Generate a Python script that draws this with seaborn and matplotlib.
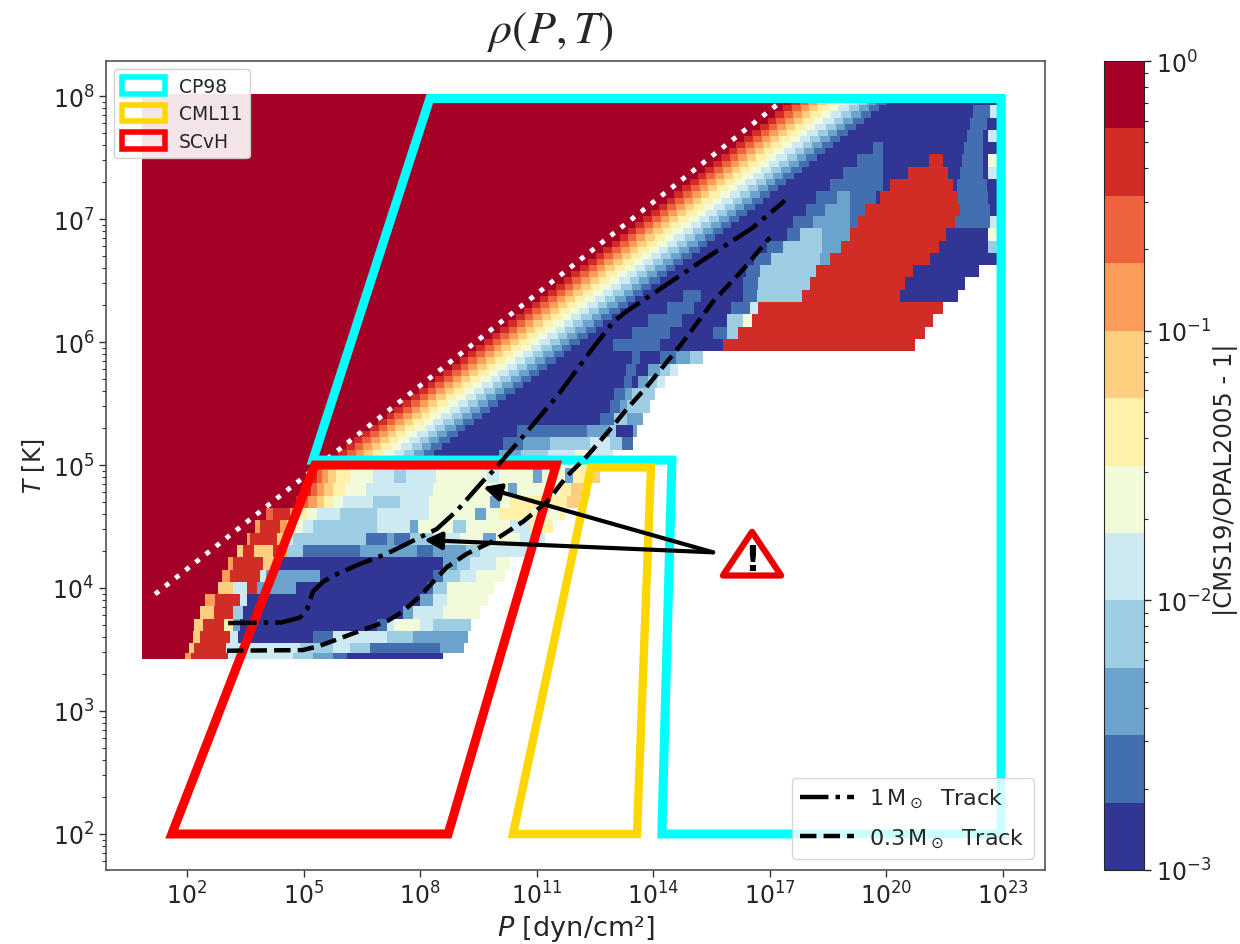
import numpy as np
import matplotlib
matplotlib.use("Agg")
import matplotlib.pyplot as plt
import seaborn as sns
from matplotlib.colors import ListedColormap, LogNorm
from matplotlib.lines import Line2D
from matplotlib.patches import Patch, Polygon
from matplotlib.ticker import LogLocator, NullFormatter

# ---------------- data (log10 units) ----------------
grid_left = 0.84
grid_right = 22.95
grid_bottom = 3.42
grid_top = 8.02

band_log_t = [5.00, 5.05, 5.10, 5.15, 5.20, 5.25, 5.30, 5.35, 5.40, 5.45, 5.50, 5.55, 5.60, 5.65, 5.70, 5.75,
              5.80, 5.85, 5.90, 5.95, 6.00, 6.05, 6.10, 6.15, 6.20, 6.25, 6.30, 6.35, 6.40, 6.45, 6.50, 6.55,
              6.60, 6.65, 6.70, 6.75, 6.80, 6.85, 6.90, 6.95, 7.00, 7.05, 7.10, 7.15, 7.20, 7.25, 7.30, 7.35,
              7.40, 7.45, 7.50, 7.55, 7.60, 7.65, 7.70, 7.75, 7.80, 7.85, 7.90, 7.95, 8.00]
band_start = [5.50, 5.70, 5.90, 6.10, 6.30, 6.50, 6.71, 6.92, 7.13, 7.34, 7.55, 7.76, 7.97, 8.18, 8.39, 8.60,
              8.81, 9.02, 9.23, 9.44, 9.65, 9.85, 10.06, 10.26, 10.47, 10.67, 10.88, 11.08, 11.29, 11.49, 11.70, 11.90,
              12.11, 12.31, 12.52, 12.72, 12.93, 13.13, 13.34, 13.54, 13.75, 13.95, 14.15, 14.35, 14.55, 14.75, 14.95, 15.15,
              15.35, 15.55, 15.75, 15.95, 16.15, 16.35, 16.55, 16.75, 16.95, 17.15, 17.35, 17.55, 17.75]
# width in dex of the levels 10, 9, ... 1 across the diagonal band
band_widths = [0.22, 0.22, 0.22, 0.24, 0.26, 0.26, 0.26, 0.26, 0.26, 0.26]

# patches right of the band: (logP from, logP to, colour level); the rest is level 0
upper_patches = {
    8.0: [],
    7.9: [(22.23, 22.66, 1), (22.66, 22.85, 4)],
    7.8: [(22.15, 22.58, 1)],
    7.7: [(22.06, 22.49, 1), (22.62, 22.85, 4)],
    7.6: [(19.66, 19.92, 1), (21.98, 22.49, 1)],
    7.5: [(19.23, 19.92, 1), (21.08, 21.46, 10), (21.93, 22.49, 1), (22.62, 22.85, 5)],
    7.4: [(18.89, 19.92, 1), (20.56, 21.59, 10), (21.89, 22.49, 1), (22.62, 22.85, 4)],
    7.3: [(18.55, 19.92, 1), (20.09, 21.72, 10), (21.81, 22.58, 1)],
    7.2: [(18.20, 18.72, 1), (18.72, 19.06, 2), (19.06, 19.75, 1), (19.83, 21.85, 10), (21.85, 22.62, 1)],
    7.1: [(17.94, 18.42, 1), (18.42, 19.06, 2), (19.06, 19.45, 1), (19.45, 21.89, 10), (21.89, 22.66, 1)],
    7.0: [(17.60, 18.12, 1), (18.12, 19.06, 2), (19.06, 19.27, 1), (19.27, 21.76, 10), (21.76, 22.66, 1), (22.66, 22.85, 4)],
    6.9: [(17.43, 17.77, 1), (17.77, 18.33, 3), (18.33, 19.06, 2), (19.06, 21.55, 10), (22.62, 22.85, 5)],
    6.8: [(16.92, 17.35, 1), (17.35, 18.33, 3), (18.33, 18.85, 2), (18.85, 21.37, 10), (22.62, 22.85, 3)],
    6.7: [(16.60, 17.04, 1), (17.04, 18.29, 3), (18.29, 18.55, 2), (18.55, 21.12, 10)],
    6.6: [(16.40, 16.74, 1), (16.74, 18.20, 3), (18.20, 20.69, 10)],
    6.5: [(16.32, 16.70, 1), (16.70, 18.03, 3), (18.03, 20.47, 10)],
    6.4: [(14.77, 15.24, 1), (16.32, 16.66, 1), (16.66, 17.82, 3), (17.82, 20.35, 10)],
    6.3: [(14.34, 15.03, 1), (16.00, 16.50, 1), (16.50, 16.70, 4), (16.70, 21.46, 10)],
    6.2: [(13.87, 14.73, 1), (15.89, 16.32, 3), (16.32, 16.53, 5), (16.53, 21.20, 10)],
    6.1: [(13.44, 14.43, 1), (15.54, 15.89, 1), (15.89, 16.19, 3), (16.19, 20.99, 10)],
    6.0: [(12.97, 14.17, 1), (15.80, 20.73, 10)],
    5.9: [(13.44, 13.66, 1), (14.17, 14.60, 1), (14.60, 14.94, 2), (14.94, 15.29, 3)],
    5.8: [(13.30, 13.57, 1), (13.87, 14.17, 2), (14.17, 14.43, 3), (14.43, 14.64, 4)],
    5.7: [(13.23, 13.44, 1), (13.61, 13.87, 2), (13.87, 14.08, 3), (14.08, 14.30, 4)],
    5.6: [(13.00, 13.27, 1), (13.27, 13.44, 2), (13.44, 14.04, 3)],
    5.5: [(12.88, 13.14, 1), (13.14, 13.31, 2), (13.31, 13.91, 3)],
    5.4: [(12.63, 13.00, 1), (13.00, 13.31, 3), (13.31, 13.74, 2)],
    5.3: [(10.48, 12.28, 1), (12.28, 12.88, 2), (12.88, 13.05, 3), (13.49, 13.60, 2)],
    5.2: [(10.13, 10.65, 1), (10.65, 11.34, 2), (11.34, 12.37, 3), (12.37, 12.90, 4), (12.90, 13.20, 3), (13.20, 13.48, 1)],
    5.1: [(10.05, 10.60, 2), (10.60, 11.30, 3), (11.30, 12.00, 4), (12.00, 12.40, 5), (12.40, 12.96, 4)],
    5.0: [(10.00, 10.60, 3), (10.60, 11.00, 4), (11.00, 12.00, 5), (12.00, 12.50, 6), (12.50, 12.80, 7)],
}
upper_row_end = {6.6: 22.40, 6.5: 22.02, 6.4: 21.85, 6.3: 21.46, 6.2: 21.20, 6.1: 20.99, 6.0: 20.73,
                 5.9: 15.29, 5.8: 14.64, 5.7: 14.30, 5.6: 14.04, 5.5: 13.91, 5.4: 13.74, 5.3: 13.60,
                 5.2: 13.48, 5.1: 12.96, 5.0: 12.80}

# cooler rows: (right edge in logP, colour level) from the left edge of the table
lower_rows = {
    4.9: [(5.16, 11), (5.34, 10), (5.46, 9), (5.64, 8), (5.85, 7), (6.19, 6), (6.79, 5), (7.31, 4), (7.65, 3), (8.42, 4),
          (9.71, 5), (10.05, 4), (10.91, 5), (11.15, 2), (11.75, 5), (11.95, 2), (12.37, 6), (12.63, 7)],
    4.8: [(4.99, 11), (5.20, 10), (5.34, 9), (5.51, 8), (5.77, 7), (6.07, 6), (6.62, 5), (8.34, 4), (9.62, 5), (10.27, 5),
          (10.48, 2), (11.60, 5), (11.90, 6), (12.37, 7)],
    4.7: [(4.82, 11), (4.99, 10), (5.12, 9), (5.34, 8), (5.51, 7), (5.77, 6), (6.02, 5), (6.79, 4), (7.48, 3), (8.25, 4),
          (9.79, 5), (10.06, 2), (10.31, 5), (11.25, 6), (11.80, 6), (12.11, 7)],
    4.6: [(4.05, 11), (4.22, 9), (4.65, 10), (4.82, 8), (5.08, 6), (5.34, 5), (5.94, 4), (6.88, 3), (8.25, 4), (8.94, 5),
          (9.42, 5), (9.68, 2), (10.05, 5), (10.91, 6), (11.60, 5), (11.73, 6)],
    4.5: [(3.75, 11), (3.88, 8), (4.39, 10), (4.56, 8), (4.82, 6), (4.99, 5), (5.25, 4), (6.88, 3), (7.74, 4), (7.95, 2),
          (8.85, 5), (9.19, 3), (10.31, 5), (10.82, 4), (11.42, 6)],
    4.4: [(3.53, 11), (3.62, 8), (4.31, 10), (4.52, 7), (4.74, 4), (6.62, 3), (7.14, 1), (7.31, 2), (7.74, 1), (8.34, 3),
          (9.02, 4), (9.62, 5), (9.97, 2), (10.57, 5), (11.21, 4)],
    4.3: [(3.28, 11), (3.45, 7), (3.71, 10), (4.22, 7), (4.39, 10), (4.56, 8), (4.99, 3), (6.45, 1), (7.91, 2), (8.34, 1),
          (9.19, 2), (9.54, 3), (10.48, 4), (10.90, 4)],
    4.2: [(3.06, 11), (3.19, 8), (3.96, 10), (4.31, 7), (8.59, 0), (8.94, 2), (9.28, 3), (9.97, 4), (10.31, 5)],
    4.1: [(2.89, 11), (3.11, 8), (3.88, 10), (4.05, 4), (5.42, 2), (8.34, 0), (8.59, 1), (9.02, 3), (9.45, 4), (10.18, 5)],
    4.0: [(2.80, 11), (3.19, 7), (3.53, 4), (3.79, 10), (4.82, 2), (8.16, 0), (8.34, 1), (8.68, 3), (9.88, 5)],
    3.9: [(2.46, 11), (2.72, 8), (3.36, 10), (3.53, 4), (7.99, 0), (8.34, 2), (8.68, 4), (9.75, 5)],
    3.8: [(2.33, 11), (2.68, 7), (3.19, 10), (3.45, 3), (7.57, 0), (7.82, 2), (8.59, 4), (9.54, 5)],
    3.7: [(2.20, 11), (2.42, 7), (2.93, 10), (3.19, 6), (3.36, 2), (6.88, 0), (7.14, 1), (7.31, 4), (7.99, 5), (8.34, 4), (9.32, 3)],
    3.6: [(2.16, 11), (2.33, 7), (3.11, 10), (3.32, 4), (5.25, 0), (5.77, 1), (7.14, 4), (7.82, 3), (9.24, 2)],
    3.5: [(2.03, 11), (2.20, 7), (3.02, 10), (3.36, 4), (4.91, 4), (5.77, 3), (6.19, 4), (6.71, 3), (8.51, 1), (9.15, 2)],
    3.45: [(1.95, 11), (2.12, 8), (3.06, 10), (4.74, 4), (5.25, 3), (5.77, 2), (6.11, 1), (8.59, 0)],
}
lower_row_edges = [3.42, 3.47, 3.55, 3.65, 3.75, 3.85, 3.95, 4.05, 4.15, 4.25, 4.35, 4.45, 4.55, 4.65, 4.75, 4.85, 4.975]

track_1_logp = [3.06, 4.44, 4.91, 5.09, 5.24, 5.50, 5.76, 6.45, 7.15, 7.92, 8.43, 8.95, 9.62, 9.87, 10.75, 11.60, 12.37,
                12.96, 13.27, 14.17, 15.20, 16.56, 17.39]
track_1_logt = [3.715, 3.72, 3.76, 3.83, 3.97, 4.05, 4.10, 4.195, 4.28, 4.40, 4.48, 4.63, 4.87, 4.95, 5.27, 5.59, 5.92,
                6.16, 6.24, 6.43, 6.65, 6.93, 7.15]
track_03_logp = [3.03, 4.98, 5.42, 6.27, 7.15, 7.56, 8.00, 8.69, 9.21, 9.87, 10.65, 11.26, 11.78, 12.29, 12.89, 13.32,
                 13.84, 14.69, 15.54, 16.31, 17.00]
track_03_logt = [3.49, 3.495, 3.53, 3.63, 3.73, 3.81, 3.935, 4.17, 4.28, 4.38, 4.54, 4.70, 4.91, 5.07, 5.29, 5.455,
                 5.64, 5.97, 6.33, 6.59, 6.85]

dotted_logp = [1.18, 17.39]
dotted_logt = [3.95, 7.98]

cp98_logp = [8.25, 22.95, 22.95, 14.22, 14.48, 5.24]
cp98_logt = [7.98, 7.98, 2.0, 2.0, 5.04, 5.04]
cml11_logp = [10.39, 13.58, 13.94, 12.40]
cml11_logt = [2.0, 2.0, 4.98, 4.98]
scvh_logp = [1.61, 8.72, 11.50, 5.29]
scvh_logt = [2.0, 2.0, 5.0, 5.0]

arrow_tail = (15.54, 4.29)
arrow_heads = [(9.62, 4.82), (8.10, 4.39)]

x_tick_exponents = [2, 5, 8, 11, 14, 17, 20, 23]
y_tick_exponents = [2, 3, 4, 5, 6, 7, 8]
region_names = ["CP98", "CML11", "SCvH"]
region_colors = ["cyan", "gold", "red"]
track_names = [r"$1\,\mathrm{M}_\odot$  Track", r"$0.3\,\mathrm{M}_\odot$  Track"]

# ---------------- figure ----------------
sns.set_style("ticks")
plt.rcParams["font.family"] = ["DejaVu Sans"]
plt.rcParams["mathtext.fontset"] = "dejavusans"

W, H = 1240, 945
fig = plt.figure(figsize=(W / 100, H / 100), dpi=100)
ax = fig.add_axes([106 / W, 1 - 871 / H, 939 / W, 809 / H])
cax = fig.add_axes([1104 / W, 1 - 871 / H, 40 / W, 809 / H])

palette = sns.color_palette(plt.get_cmap("RdYlBu_r", 12)(np.arange(12)))
cmap = ListedColormap(palette)
norm = LogNorm(1e-3, 1)


def level_value(level):
    return 10 ** (-3 + (level + 0.5) * 0.25)


p_edges = np.arange(grid_left, grid_right + 0.0251, 0.025)
p_mid = 0.5 * (p_edges[:-1] + p_edges[1:])

rows, t_edges = [], []

# cool rows
lower_keys = sorted(lower_rows)
for i, key in enumerate(lower_keys):
    row = np.full(p_mid.shape, np.nan)
    left = grid_left
    for right, level in lower_rows[key]:
        row[(p_mid >= left) & (p_mid < right)] = level_value(level)
        left = right
    rows.append(row)
t_edges.extend(lower_row_edges)

# hot rows
for t, s in zip(band_log_t, band_start):
    key = round(t + 1e-6, 1)
    row = np.full(p_mid.shape, np.nan)
    end = upper_row_end.get(key, grid_right)
    row[p_mid < end] = level_value(0)
    row[p_mid < s] = level_value(11)
    left = s
    for level, width in zip(range(10, 0, -1), band_widths):
        row[(p_mid >= left) & (p_mid < left + width)] = level_value(level)
        left += width
    for a, b, level in upper_patches[key]:
        row[(p_mid >= a) & (p_mid < b)] = level_value(level)
    rows.append(row)
    t_edges.append(min(t + 0.025, grid_top))

Z = np.ma.masked_invalid(np.array(rows))
mesh = ax.pcolormesh(10 ** p_edges, 10 ** np.array(t_edges), Z, cmap=cmap, norm=norm, shading="flat",
                     rasterized=True, zorder=1)

ax.set_xscale("log")
ax.set_yscale("log")
ax.set_xlim(10 ** -0.084, 10 ** 24.08)
ax.set_ylim(10 ** 1.707, 10 ** 8.285)

sns.lineplot(x=10 ** np.array(dotted_logp), y=10 ** np.array(dotted_logt), ax=ax, color="white", lw=3.5,
             linestyle=":", estimator=None, sort=False, zorder=2)

for px, py, colour, lw in [(cp98_logp, cp98_logt, region_colors[0], 6.5),
                           (cml11_logp, cml11_logt, region_colors[1], 6.0),
                           (scvh_logp, scvh_logt, region_colors[2], 6.5)]:
    ax.add_patch(Polygon(np.column_stack([10 ** np.array(px), 10 ** np.array(py)]), closed=True, fill=False,
                         edgecolor=colour, lw=lw, zorder=3, joinstyle="miter"))

sns.lineplot(x=10 ** np.array(track_1_logp), y=10 ** np.array(track_1_logt), ax=ax, color="black", lw=3.2,
             linestyle="-.", estimator=None, sort=False, zorder=4)
sns.lineplot(x=10 ** np.array(track_03_logp), y=10 ** np.array(track_03_logt), ax=ax, color="black", lw=3.2,
             linestyle="--", estimator=None, sort=False, zorder=4)

for head in arrow_heads:
    ax.annotate("", xy=(10 ** head[0], 10 ** head[1]), xytext=(10 ** arrow_tail[0], 10 ** arrow_tail[1]),
                arrowprops=dict(arrowstyle="-|>", color="black", lw=3, mutation_scale=26, shrinkA=0, shrinkB=0),
                zorder=5)

# warning sign
ax.add_patch(Polygon([(0.688, 0.418), (0.657, 0.364), (0.719, 0.364)], closed=True, transform=ax.transAxes,
                     facecolor="white", edgecolor="#e80000", lw=4.5, joinstyle="round", zorder=6))
ax.text(0.688, 0.3835, "!", transform=ax.transAxes, ha="center", va="center", fontsize=25, fontweight="bold",
        color="black", zorder=7)

# axes decoration
ax.set_xticks([10.0 ** e for e in x_tick_exponents])
ax.set_xticklabels([f"$\\mathdefault{{10^{{{e}}}}}$" for e in x_tick_exponents], fontsize=17)
ax.xaxis.set_minor_locator(plt.NullLocator())
ax.set_yticks([10.0 ** e for e in y_tick_exponents])
ax.set_yticklabels([f"$\\mathdefault{{10^{{{e}}}}}$" for e in y_tick_exponents], fontsize=17)
ax.yaxis.set_minor_locator(LogLocator(base=10, subs=np.arange(2, 10), numticks=20))
ax.yaxis.set_minor_formatter(NullFormatter())
ax.tick_params(axis="both", which="major", length=5, width=1, color="#333333")
ax.tick_params(axis="y", which="minor", length=3, width=0.8, color="#333333")
for spine in ax.spines.values():
    spine.set_visible(True)
    spine.set_color("#444444")
    spine.set_linewidth(1.1)

ax.set_xlabel(r"$P$ [dyn/cm²]", fontsize=19.5, labelpad=3)
ax.set_ylabel(r"$T$ [K]", fontsize=17, labelpad=4)
fig.text(550 / W, 1 - 32 / H, r"$\rho(P, T)$", ha="center", va="center", fontsize=33, math_fontfamily="stix")

legend_regions = ax.legend(
    handles=[Patch(facecolor="none", edgecolor=c, lw=4, label=n) for c, n in zip(region_colors, region_names)],
    loc="upper left", bbox_to_anchor=(0.0, 1.0), borderaxespad=0.45, fontsize=13.5, frameon=True, framealpha=0.9,
    handlelength=2.3, handleheight=1.0, labelspacing=0.45, handletextpad=0.75)
legend_regions.set_zorder(8)
ax.add_artist(legend_regions)
legend_tracks = ax.legend(
    handles=[Line2D([], [], color="black", lw=3.2, linestyle="-.", label=track_names[0]),
             Line2D([], [], color="black", lw=3.2, linestyle="--", label=track_names[1])],
    loc="lower right", bbox_to_anchor=(1.0, 0.0), borderaxespad=0.5, fontsize=16, frameon=True, framealpha=0.8,
    handlelength=2.4, labelspacing=0.75, handletextpad=0.7)
legend_tracks.set_zorder(8)

cb = fig.colorbar(mesh, cax=cax)
cb.ax.tick_params(which="major", labelsize=17, length=5, width=1)
cb.ax.tick_params(which="minor", length=3, width=0.8)
cb.ax.yaxis.set_major_formatter(plt.FuncFormatter(lambda v, _: f"$\\mathdefault{{10^{{{int(round(np.log10(v)))}}}}}$"))
fig.text(1226 / W, 1 - 480 / H, "|CMS19/OPAL2005 - 1|", rotation=90, ha="center", va="center", fontsize=17.5)

fig.savefig("out.png", dpi=100)
